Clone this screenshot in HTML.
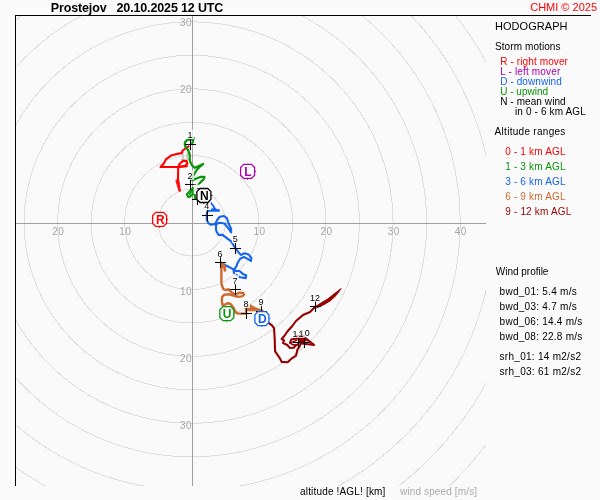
<!DOCTYPE html><html><head><meta charset="utf-8"><title>Hodograph</title>
<style>html,body{margin:0;padding:0;background:#fafafa;}svg{display:block;will-change:transform;}text{font-family:"Liberation Sans",sans-serif;}</style></head><body>
<svg width="600" height="500" viewBox="0 0 600 500">
<rect x="0" y="0" width="600" height="500" fill="#fafafa"/>
<defs><clipPath id="c"><rect x="16" y="16" width="470" height="470"/></clipPath></defs>
<g clip-path="url(#c)" fill="none" stroke="#dedede" stroke-width="1" shape-rendering="crispEdges">
<ellipse cx="191.80" cy="222.60" rx="33.55" ry="33.47"/>
<ellipse cx="191.80" cy="222.60" rx="67.10" ry="66.94"/>
<ellipse cx="191.80" cy="222.60" rx="100.65" ry="100.41"/>
<ellipse cx="191.80" cy="222.60" rx="134.20" ry="133.88"/>
<ellipse cx="191.80" cy="222.60" rx="167.75" ry="167.35"/>
<ellipse cx="191.80" cy="222.60" rx="201.30" ry="200.82"/>
<ellipse cx="191.80" cy="222.60" rx="234.85" ry="234.29"/>
<ellipse cx="191.80" cy="222.60" rx="268.40" ry="267.76"/>
<ellipse cx="191.80" cy="222.60" rx="301.95" ry="301.23"/>
<ellipse cx="191.80" cy="222.60" rx="335.50" ry="334.70"/>
<ellipse cx="191.80" cy="222.60" rx="369.05" ry="368.17"/>
<ellipse cx="191.80" cy="222.60" rx="402.60" ry="401.64"/>
</g>
<g stroke="#a0a0a0" stroke-width="1" shape-rendering="crispEdges">
<line x1="16" y1="223.5" x2="486" y2="223.5"/>
<line x1="192.5" y1="16" x2="192.5" y2="486"/>
</g>
<g stroke="#000" stroke-width="1" shape-rendering="crispEdges">
<line x1="15" y1="15.5" x2="591" y2="15.5"/>
<line x1="15.5" y1="15" x2="15.5" y2="486"/>
</g>
<g font-size="10" fill="#a6a6a6" letter-spacing="0.45">
<text x="58.2" y="235" text-anchor="middle">20</text>
<text x="125.3" y="235" text-anchor="middle">10</text>
<text x="259.5" y="235" text-anchor="middle">10</text>
<text x="326.6" y="235" text-anchor="middle">20</text>
<text x="393.7" y="235" text-anchor="middle">30</text>
<text x="460.8" y="235" text-anchor="middle">40</text>
<text x="192.1" y="26" text-anchor="end">30</text>
<text x="192.1" y="93" text-anchor="end">20</text>
<text x="192.1" y="160" text-anchor="end">10</text>
<text x="192.1" y="295" text-anchor="end">10</text>
<text x="192.1" y="362" text-anchor="end">20</text>
<text x="192.1" y="429" text-anchor="end">30</text>
</g>
<!--DATA-->
<g fill="none" stroke-linejoin="round" stroke-linecap="round">
<!-- red 0-1 km -->
<g stroke="#ff0000" stroke-width="2.1">
<path d="M178.2,167 L178,179"/>
<path d="M176.2,180.2 L178.6,179.2 L180.4,191.2 L179.4,191.2 Z" fill="#ff0000" stroke-width="1"/>
<path d="M186.9,166.1 L178.5,167 L160.5,167 L163.8,163.6 L165.9,159.4 L171,155.6 L176.8,153.9 L181.9,153.1 L182.3,151 L185.3,148.5 L188.6,146.4"/>
<path d="M178.5,167 L179.4,164 L182.7,161.1 L186.5,160.7 L187.4,163.6 L185.3,165.7 L178.5,167"/>
</g>
<!-- green 1-3 km -->
<g stroke="#0a960a" stroke-width="2.2">
<path d="M193.7,137.8 L193,140.6 L192.2,143.5"/>
<path d="M191.3,139.4 L187.4,139.8 L185.3,141.9 L184.7,144 L185.4,146.8 L187.2,149 L188.6,151 L189.5,154.4 L189.9,161.1 L192,165.3 L194.9,167.8 L198.7,166.1 L203.3,164 L199.4,167.2 L196.9,169.8 L194.4,173.5 L192.7,176.9 L192.3,180.3 L195.2,179 L200.3,176.9 L204.5,176.9 L203.6,179.4 L200.3,182.4 L197.6,185.4"/>
<path d="M197.6,185.4 L193.5,188.3" stroke-width="1" stroke-opacity="0.45"/>
<path d="M193.6,187.8 L190.4,190.4 L186.9,194.2 L188.2,197 L190.2,196.6 L192.2,194.6" stroke-width="2.1"/>
<path d="M193.4,188.2 L191.3,191.5 L189.6,194.4" stroke-width="1.6"/>
<path d="M193.3,188.4 L192.6,193 L195.1,195.4 L194.9,198.6 L197.5,199.5" stroke-width="2.1"/>
</g>
<!-- blue 3-6 km -->
<g stroke="#1464f0" stroke-width="2.1">
<path d="M197.5,199.5 L209.3,201.6 L211,203 L213.4,206 L214.6,208.4" stroke-width="1.9"/>
<path d="M212.1,208.4 L216,208.4 L216.4,209.3 L219.6,209.4 L219.6,211.5 L210.4,211.5 L210.4,210.2 Z" fill="#1464f0" stroke-width="0.5"/>
<path d="M210.6,210.2 L207.6,211.2 L206.8,213 L206.8,220.2 L208.4,223.1 L211,224.8 L215.2,223.9 L217.3,219.7 L219.8,216.8 L224,216 L226.9,218.1 L228.6,223.5 L231.1,228.6 L231.1,232.4 L228.6,228.6 L224.4,223.5 L219.4,222.7 L216,224.4 L216,229.4 L216.8,232.2 L218.9,235.1 L222.2,234.7 L226.8,238.1 L231.1,241.4 L235.5,248.5 L238.6,252.4 L241.1,254.9 L244.5,253.3 L248.7,254.5 L251.4,258.2 L250.9,261 L247.3,258.6 L243.9,257 L240.4,258.5 L237.8,262.5 L236.1,266.8 L233.6,270.1 L234,273"/>
<path d="M220.5,262.5 L226,265.5 L232.7,268.9 L236,271 L239.5,271 L242.8,273.9 L246.2,275.2 L245.8,278.1 L240.3,277.3 L236.5,275"/>
</g>
<!-- brown 6-9 km -->
<g stroke="#cd6a32" stroke-width="2.4">
<path d="M221.4,262.6 L225.2,265.9 L225.6,270.5 L224.5,271 L223.9,267.6 L221.8,266.8 Z" fill="#cd6a32" stroke-width="1.5"/>
<path d="M221.4,266 L221.4,282.7 L221.8,285 L223.4,289.2 L226,290.1 L228.5,289.2 L231.8,292.6 L235.2,294.7 L239.4,292.6 L243.2,293 L244,294.7 L241.9,296.4 L237.7,296.8 L233.5,295.5 L229.3,294.3 L224.3,294.7 L222.2,296.8 L221.8,301 L222.6,305.2 L225.5,304.4 L228.1,303.1 L231,304.4 L233.5,307.7 L235.2,311.5 L237.7,313.6 L241.1,313.6 L246.3,313.6"/>
<path d="M246.3,313.4 L245.8,308.5" stroke-width="2.2"/>
<path d="M246,308.6 L249.5,304.4 L256,308 L263.4,310.4 L257.7,310.8 L250,310.8 L246,310.5 Z" fill="#cd6a32" stroke-width="1"/>
</g>
<!-- dark red 9-12 km -->
<g stroke="#960000" stroke-width="2.1">
<path d="M261.5,311.5 L268.6,322.8 L272,325.3 L274,328 L274.7,338.8 L275.1,351.4 L279.3,357.3 L281.8,361.9 L287.7,362.3 L291.1,359 L296.1,355.6 L297.4,349.7 L298.9,347.5 L300.3,345"/>
<path d="M298.7,344 L296,345.3 L293.7,347.7 L290,348 L287.3,345 L283,343 L284,340.3 L281.7,339 L284.3,336 L288,330.7 L292.3,326 L296,321 L303,315 L310,312 L315.5,306.5"/>
<path d="M290,342.7 L291.3,339.4 L295.3,338.8 L300,338.8" stroke-width="1.9"/>
<path d="M290,342.9 L296.5,340.4" stroke-width="1.5"/>
<path d="M290,342.7 L292.5,344.6 L296,345" stroke-width="1.6"/>
<path d="M299.3,338.3 L303.7,338.3 L303.7,341.7 L299.3,341.7 Z" fill="#960000" stroke-width="1.2"/>
<path d="M304.9,337.6 L314.2,345 L306.2,344 L300.5,343.6" stroke-width="2"/>
<path d="M304.5,338.5 L308.5,341.2 L304.5,341.5 Z" fill="#960000" stroke="none"/>
<rect x="296.3" y="335" width="8.4" height="2.6" fill="#960000" stroke="none"/>
<path d="M315.5,306.5 L323,301.8 L328,298.8 L334,294 L341.2,288.6 L336,295.6 L330,301 L324,304.6 L317,307.8 Z" fill="#960000" stroke-width="1"/>
</g>
</g>
<!-- markers: plus signs -->
<g font-size="9" fill="#000" text-anchor="middle">
<path d="M185.0,144.5H196.0M190.5,139.0V150.0" stroke="#000" stroke-width="1" shape-rendering="crispEdges" fill="none"/><rect x="186.6" y="129.5" width="7.4" height="9.5" fill="#fff" fill-opacity="0.75"/><text x="190.0" y="138.0">1</text>
<path d="M185.0,184.5H196.0M190.5,179.0V190.0" stroke="#000" stroke-width="1" shape-rendering="crispEdges" fill="none"/><rect x="186.6" y="170.5" width="7.4" height="9.5" fill="#fff" fill-opacity="0.75"/><text x="190.0" y="179.0">2</text>
<path d="M192.0,199.5H203.0M197.5,194.0V205.0" stroke="#000" stroke-width="1" shape-rendering="crispEdges" fill="none"/><rect x="193.6" y="184.5" width="7.4" height="9.5" fill="#fff" fill-opacity="0.75"/><text x="198.4" y="193.5">3</text>
<path d="M202.0,215.5H213.0M207.5,210.0V221.0" stroke="#000" stroke-width="1" shape-rendering="crispEdges" fill="none"/><rect x="203.6" y="200.6" width="7.4" height="9.5" fill="#fff" fill-opacity="0.75"/><text x="206.7" y="209.3">4</text>
<path d="M230.0,248.5H241.0M235.5,243.0V254.0" stroke="#000" stroke-width="1" shape-rendering="crispEdges" fill="none"/><rect x="231.9" y="233.5" width="7.4" height="9.5" fill="#fff" fill-opacity="0.75"/><text x="235.3" y="242.0">5</text>
<path d="M215.0,262.5H226.0M220.5,257.0V268.0" stroke="#000" stroke-width="1" shape-rendering="crispEdges" fill="none"/><rect x="216.6" y="248.0" width="7.4" height="9.5" fill="#fff" fill-opacity="0.75"/><text x="220.0" y="256.5">6</text>
<path d="M230.0,289.5H241.0M235.5,284.0V295.0" stroke="#000" stroke-width="1" shape-rendering="crispEdges" fill="none"/><rect x="231.6" y="275.0" width="7.4" height="9.5" fill="#fff" fill-opacity="0.75"/><text x="235.0" y="283.5">7</text>
<path d="M241.0,313.5H252.0M246.5,308.0V319.0" stroke="#000" stroke-width="1" shape-rendering="crispEdges" fill="none"/><rect x="242.6" y="298.5" width="7.4" height="9.5" fill="#fff" fill-opacity="0.75"/><text x="246.0" y="307.0">8</text>
<path d="M256.0,311.5H267.0M261.5,306.0V317.0" stroke="#000" stroke-width="1" shape-rendering="crispEdges" fill="none"/><rect x="257.6" y="296.5" width="7.4" height="9.5" fill="#fff" fill-opacity="0.75"/><text x="261.0" y="305.0">9</text>
<path d="M299.0,342.5H310.0M304.5,337.0V348.0" stroke="#000" stroke-width="1" shape-rendering="crispEdges" fill="none"/><rect x="298.8" y="327.7" width="12.4" height="9.5" fill="#fff" fill-opacity="0.75"/><text x="302.0" y="336.2">1</text><text x="307.3" y="336.2">0</text>
<path d="M293.0,342.5H304.0M298.5,337.0V348.0" stroke="#000" stroke-width="1" shape-rendering="crispEdges" fill="none"/><rect x="292.1" y="328.5" width="12.4" height="9.5" fill="#fff" fill-opacity="0.75"/><rect x="296.3" y="335.1" width="8.4" height="2.4" fill="#e8afb2"/><text x="295.0" y="337.0">1</text><text x="300.9" y="337.0">1</text>
<path d="M310.0,306.5H321.0M315.5,301.0V312.0" stroke="#000" stroke-width="1" shape-rendering="crispEdges" fill="none"/><rect x="309.1" y="292.5" width="12.6" height="9.5" fill="#fff" fill-opacity="0.75"/><text x="315.1" y="301.0">12</text>
</g>
<!-- storm motion markers -->
<g font-size="12" font-weight="bold" text-anchor="middle" stroke-width="1.3" stroke-linejoin="round">
<polygon points="200.00,188.50 207.80,188.50 210.90,191.60 210.90,199.40 207.80,202.50 200.00,202.50 196.90,199.40 196.90,191.60" fill="#fff" stroke="#000"/>
<path d="M211.40,195.50h1M203.90,203.00v1" stroke="#000" stroke-width="1" fill="none"/>
<text x="204.30" y="199.90" fill="#000">N</text>
<polygon points="155.70,212.40 163.50,212.40 166.60,215.50 166.60,223.30 163.50,226.40 155.70,226.40 152.60,223.30 152.60,215.50" fill="#fff" stroke="#ff0000"/>
<path d="M167.10,219.40h1M159.60,226.90v1" stroke="#ff0000" stroke-width="1" fill="none"/>
<text x="160.40" y="223.70" fill="#ff0000">R</text>
<polygon points="243.70,164.40 251.50,164.40 254.60,167.50 254.60,175.30 251.50,178.40 243.70,178.40 240.60,175.30 240.60,167.50" fill="#fff" stroke="#aa00aa"/>
<path d="M255.10,171.40h1M247.60,178.90v1" stroke="#aa00aa" stroke-width="1" fill="none"/>
<text x="248.00" y="175.80" fill="#aa00aa">L</text>
<polygon points="222.90,306.60 230.70,306.60 233.80,309.70 233.80,317.50 230.70,320.60 222.90,320.60 219.80,317.50 219.80,309.70" fill="#fff" stroke="#0a960a"/>
<path d="M234.30,313.60h1M226.80,321.10v1" stroke="#0a960a" stroke-width="1" fill="none"/>
<text x="227.20" y="318.00" fill="#0a960a">U</text>
<polygon points="258.00,311.60 265.80,311.60 268.90,314.70 268.90,322.50 265.80,325.60 258.00,325.60 254.90,322.50 254.90,314.70" fill="#fff" stroke="#1464f0"/>
<path d="M269.40,318.60h1M261.90,326.10v1" stroke="#1464f0" stroke-width="1" fill="none"/>
<text x="262.30" y="323.00" fill="#1464f0">D</text>
</g>

<!--TEXT-->
<text x="50.80" y="12" font-size="12.5" font-weight="bold" fill="#000" xml:space="preserve" textLength="172.6" lengthAdjust="spacing">Prostejov   20.10.2025 12 UTC</text>
<text x="530.20" y="11" font-size="11" font-weight="normal" fill="#ff0000" xml:space="preserve" textLength="66.80" lengthAdjust="spacing">CHMI © 2025</text>
<text x="495.00" y="30" font-size="11" font-weight="normal" fill="#000" xml:space="preserve" textLength="72.52" lengthAdjust="spacing">HODOGRAPH</text>
<text x="495.00" y="50" font-size="10" font-weight="normal" fill="#000" xml:space="preserve" textLength="65.47" lengthAdjust="spacing">Storm motions</text>
<text x="500.20" y="65" font-size="10" font-weight="normal" fill="#ff0000" xml:space="preserve" textLength="67.72" lengthAdjust="spacing">R - right mover</text>
<text x="500.20" y="75" font-size="10" font-weight="normal" fill="#aa00aa" xml:space="preserve" textLength="60.08" lengthAdjust="spacing">L - left mover</text>
<text x="500.20" y="85" font-size="10" font-weight="normal" fill="#1464f0" xml:space="preserve" textLength="61.59" lengthAdjust="spacing">D - downwind</text>
<text x="500.20" y="95" font-size="10" font-weight="normal" fill="#0a960a" xml:space="preserve" textLength="47.81" lengthAdjust="spacing">U - upwind</text>
<text x="500.20" y="105" font-size="10" font-weight="normal" fill="#000" xml:space="preserve" textLength="65.47" lengthAdjust="spacing">N - mean wind</text>
<text x="515.00" y="115" font-size="10" font-weight="normal" fill="#000" xml:space="preserve" textLength="70.82" lengthAdjust="spacing">in 0 - 6 km AGL</text>
<text x="494.60" y="135" font-size="10" font-weight="normal" fill="#000" xml:space="preserve" textLength="70.72" lengthAdjust="spacing">Altitude ranges</text>
<text x="505.20" y="155" font-size="10" font-weight="normal" fill="#ff0000" xml:space="preserve" textLength="60.30" lengthAdjust="spacing">0 - 1 km AGL</text>
<text x="505.20" y="170" font-size="10" font-weight="normal" fill="#0a960a" xml:space="preserve" textLength="60.30" lengthAdjust="spacing">1 - 3 km AGL</text>
<text x="505.20" y="185" font-size="10" font-weight="normal" fill="#1464f0" xml:space="preserve" textLength="60.30" lengthAdjust="spacing">3 - 6 km AGL</text>
<text x="505.20" y="200" font-size="10" font-weight="normal" fill="#cd6a32" xml:space="preserve" textLength="60.30" lengthAdjust="spacing">6 - 9 km AGL</text>
<text x="505.20" y="215" font-size="10" font-weight="normal" fill="#960000" xml:space="preserve" textLength="66.10" lengthAdjust="spacing">9 - 12 km AGL</text>
<text x="495.80" y="275" font-size="10" font-weight="normal" fill="#000" xml:space="preserve" textLength="52.61" lengthAdjust="spacing">Wind profile</text>
<text x="499.60" y="295" font-size="10" font-weight="normal" fill="#000" xml:space="preserve" textLength="77.07" lengthAdjust="spacing">bwd_01: 5.4 m/s</text>
<text x="499.60" y="310" font-size="10" font-weight="normal" fill="#000" xml:space="preserve" textLength="77.07" lengthAdjust="spacing">bwd_03: 4.7 m/s</text>
<text x="499.60" y="325" font-size="10" font-weight="normal" fill="#000" xml:space="preserve" textLength="82.74" lengthAdjust="spacing">bwd_06: 14.4 m/s</text>
<text x="499.60" y="340" font-size="10" font-weight="normal" fill="#000" xml:space="preserve" textLength="82.74" lengthAdjust="spacing">bwd_08: 22.8 m/s</text>
<text x="499.60" y="360" font-size="10" font-weight="normal" fill="#000" xml:space="preserve" textLength="81.37" lengthAdjust="spacing">srh_01: 14 m2/s2</text>
<text x="499.60" y="375" font-size="10" font-weight="normal" fill="#000" xml:space="preserve" textLength="81.37" lengthAdjust="spacing">srh_03: 61 m2/s2</text>
<text x="300.00" y="495" font-size="10" font-weight="normal" fill="#000" xml:space="preserve" textLength="85.37" lengthAdjust="spacing">altitude !AGL! [km]</text>
<text x="400.00" y="495" font-size="10" font-weight="normal" fill="#aaaaaa" xml:space="preserve" textLength="77.05" lengthAdjust="spacing">wind speed [m/s]</text>
</svg></body></html>
